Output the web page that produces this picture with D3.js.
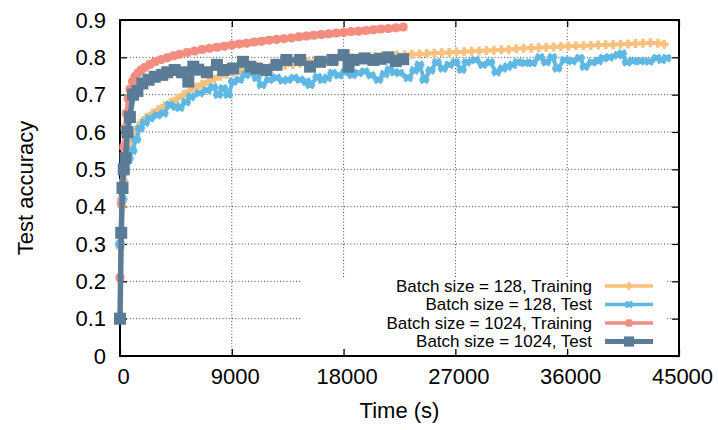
<!DOCTYPE html>
<html>
<head>
<meta charset="utf-8">
<script src="https://cdn.jsdelivr.net/npm/d3@7/dist/d3.min.js"></script>
<style>
  html, body { margin: 0; padding: 0; background: #fff; }
  svg { display: block; font-family: "Liberation Sans", Arial, Helvetica, sans-serif; }
</style>
</head>
<body>
<svg id="chart" width="718" height="430"></svg>
<script>
// Training time (s) and accuracy for each run
const train128Time = [0,150,300,500,750,1000,1300,1700,2100,2600,3100,3600,4100,4600,5100,5600,6100,6600,7100,7600,8100,8600,9100,9700,10300,10900,11500,12100,12700,13300,13900,14500,15100,15700,16300,16900,17500,18100,18700,19300,19900,20500,21100,21700,22300,22900,23500,24100,24700,25300,25900,26500,27100,27700,28300,28900,29500,30100,30700,31300,31900,32500,33100,33700,34300,34900,35500,36100,36700,37300,37900,38500,39100,39700,40300,40900,41500,42100,42700,43300,43800];
const train128Acc = [0.29,0.40,0.47,0.52,0.56,0.585,0.605,0.625,0.638,0.650,0.660,0.670,0.680,0.690,0.700,0.710,0.720,0.728,0.735,0.742,0.749,0.755,0.760,0.764,0.767,0.770,0.772,0.775,0.777,0.779,0.781,0.784,0.787,0.790,0.792,0.794,0.796,0.798,0.799,0.800,0.801,0.802,0.803,0.804,0.806,0.807,0.808,0.809,0.810,0.811,0.812,0.813,0.814,0.815,0.816,0.817,0.818,0.819,0.820,0.821,0.823,0.824,0.825,0.826,0.827,0.828,0.829,0.830,0.831,0.831,0.832,0.833,0.834,0.834,0.835,0.836,0.837,0.838,0.839,0.838,0.835];

const test128Time = [0,200,400,700,1000,1300,1600,2000,2400,3000,3500,4000,4500,4800,5300,5700,6400,7000,7500,7900,8300,8700,9100,9600,10100,10600,11000,11400,12000,12600,13100,13500,14000,14500,15000,15300,15900,16300,16700,17100,17600,18100,18700,19200,19700,20200,20800,21300,21700,22100,22500,23200,23700,24100,24500,25000,25500,26000,26500,27000,27500,27900,28600,29200,29800,30300,30800,31200,31600,32000,32600,33200,33800,34300,34800,35200,35800,36400,37000,37400,38000,38500,38900,39400,40100,40400,40800,41300,41900,42600,43200,43600,44000];
const test128Acc = [0.30,0.42,0.50,0.53,0.55,0.58,0.61,0.625,0.637,0.645,0.65,0.672,0.668,0.665,0.68,0.694,0.704,0.712,0.72,0.70,0.717,0.70,0.735,0.74,0.753,0.758,0.745,0.726,0.74,0.745,0.738,0.74,0.745,0.74,0.735,0.726,0.747,0.74,0.745,0.758,0.752,0.76,0.753,0.758,0.762,0.752,0.74,0.755,0.767,0.76,0.758,0.745,0.765,0.78,0.74,0.765,0.787,0.77,0.78,0.787,0.767,0.787,0.793,0.78,0.787,0.76,0.77,0.775,0.78,0.787,0.785,0.785,0.80,0.787,0.80,0.77,0.793,0.79,0.798,0.775,0.787,0.79,0.798,0.80,0.806,0.81,0.787,0.79,0.79,0.789,0.798,0.793,0.798];

const train1024Time = [0,100,200,300,400,500,650,800,1000,1200,1450,1700,2000,2400,2800,3300,3800,4300,4800,5400,6000,6600,7200,7800,8400,9000,9600,10200,10800,11400,12000,12600,13200,13800,14400,15000,15600,16200,16800,17400,18000,18600,19200,19800,20400,21000,21600,22200,22800];
const train1024Acc = [0.21,0.41,0.50,0.56,0.61,0.65,0.69,0.715,0.735,0.748,0.758,0.766,0.773,0.781,0.788,0.794,0.799,0.804,0.808,0.813,0.817,0.821,0.824,0.827,0.830,0.833,0.836,0.838,0.841,0.843,0.846,0.848,0.850,0.852,0.855,0.857,0.859,0.861,0.863,0.865,0.867,0.869,0.870,0.872,0.874,0.876,0.877,0.879,0.881];

const test1024Time = [0,100,200,300,450,600,800,1050,1400,1800,2300,2800,3400,3800,4400,5000,5500,5900,6300,7000,7800,8300,9100,9900,10500,11000,11800,12600,13400,14500,15300,16100,17100,18000,18400,18800,19700,20400,21000,21600,22200,22800];
const test1024Acc = [0.10,0.33,0.45,0.50,0.53,0.60,0.64,0.70,0.71,0.73,0.74,0.748,0.753,0.76,0.766,0.76,0.735,0.775,0.767,0.76,0.78,0.766,0.77,0.788,0.775,0.77,0.766,0.78,0.793,0.793,0.775,0.788,0.793,0.806,0.775,0.793,0.797,0.793,0.796,0.80,0.79,0.795];

const seriesNames = ["Batch size = 128, Training", "Batch size = 128, Test", "Batch size = 1024, Training", "Batch size = 1024, Test"];
const seriesColors = ["#f9c17e", "#5fb8e4", "#f28d80", "#5b7c97"];

const xTicks = [0, 9000, 18000, 27000, 36000, 45000];
const yTicks = [0, 0.1, 0.2, 0.3, 0.4, 0.5, 0.6, 0.7, 0.8, 0.9];

const xTitle = "Time (s)";
const yTitle = "Test accuracy";

const svg = d3.select("#chart");
const plotLeft = 120, plotRight = 679, plotTop = 20, plotBottom = 356;

const x = d3.scaleLinear().domain([0, 45000]).range([plotLeft, plotRight]);
const y = d3.scaleLinear().domain([0, 0.9]).range([plotBottom, plotTop]);

const series = [
  { name: seriesNames[0], color: seriesColors[0], t: train128Time, a: train128Acc, marker: "plus", lw: 4 },
  { name: seriesNames[1], color: seriesColors[1], t: test128Time, a: test128Acc, marker: "star", lw: 4 },
  { name: seriesNames[2], color: seriesColors[2], t: train1024Time, a: train1024Acc, marker: "cross", lw: 4 },
  { name: seriesNames[3], color: seriesColors[3], t: test1024Time, a: test1024Acc, marker: "square", lw: 5.5 }
];
series.forEach(s => { s.points = s.t.map((tv, i) => ({ t: tv, a: s.a[i] })); });

// Dotted grid
const grid = svg.append("g").attr("stroke", "#444").attr("stroke-width", 1).attr("stroke-dasharray", "1,2.2");
xTicks.slice(1, -1).forEach(v => {
  grid.append("line").attr("x1", x(v)).attr("x2", x(v)).attr("y1", plotTop).attr("y2", plotBottom);
});
yTicks.slice(1, -1).forEach(v => {
  grid.append("line").attr("x1", plotLeft).attr("x2", plotRight).attr("y1", y(v)).attr("y2", y(v));
});

// Opaque key box
const key = { x: 301, y: 277, w: 365, h: 71 };
svg.append("rect").attr("x", key.x).attr("y", key.y).attr("width", key.w).attr("height", key.h).attr("fill", "#fff");

// Axes with inward ticks, mirrored on top and right
const tickLen = 7;
const axisBottom = d3.axisBottom(x).tickValues(xTicks).tickSizeInner(-tickLen).tickSizeOuter(0).tickPadding(12).tickFormat(d3.format("d"));
const axisLeft = d3.axisLeft(y).tickValues(yTicks).tickSizeInner(-tickLen).tickSizeOuter(0).tickPadding(14).tickFormat(d => d === 0 ? "0" : d3.format(".1f")(d));
const axisTop = d3.axisTop(x).tickValues(xTicks).tickSizeInner(-tickLen).tickSizeOuter(0).tickFormat("");
const axisRight = d3.axisRight(y).tickValues(yTicks).tickSizeInner(-tickLen).tickSizeOuter(0).tickFormat("");

function styleAxis(g) {
  g.select(".domain").remove();
  g.selectAll(".tick line").attr("stroke", "#000").attr("stroke-width", 1.2);
  g.selectAll(".tick text").attr("fill", "#000").style("font-size", "22px").style("font-family", "'Liberation Sans', Arial, sans-serif");
}
svg.append("g").attr("transform", `translate(0,${plotBottom})`).call(axisBottom).call(styleAxis)
  .selectAll(".tick text").attr("dx", 3);
svg.append("g").attr("transform", `translate(${plotLeft},0)`).call(axisLeft).call(styleAxis);
svg.append("g").attr("transform", `translate(0,${plotTop})`).call(axisTop).call(styleAxis);
svg.append("g").attr("transform", `translate(${plotRight},0)`).call(axisRight).call(styleAxis);

svg.append("rect").attr("x", plotLeft).attr("y", plotTop).attr("width", plotRight - plotLeft).attr("height", plotBottom - plotTop)
  .attr("fill", "none").attr("stroke", "#000").attr("stroke-width", 2);

// Marker drawing
function drawMarker(g, type, color, cx, cy, scale) {
  const k = scale || 1;
  if (type === "square") {
    const s = 12 * k;
    g.append("rect").attr("x", cx - s / 2).attr("y", cy - s / 2).attr("width", s).attr("height", s).attr("fill", color);
  } else if (type === "plus") {
    const r = 4.5 * k;
    g.append("path").attr("d", `M${cx - r},${cy}H${cx + r}M${cx},${cy - r}V${cy + r}`)
      .attr("stroke", color).attr("stroke-width", 3.5).attr("fill", "none");
  } else if (type === "cross") {
    const r = 4.5 * k;
    g.append("path").attr("d", `M${cx - r},${cy}H${cx + r}M${cx},${cy - r}V${cy + r}M${cx - r * 0.75},${cy - r * 0.75}L${cx + r * 0.75},${cy + r * 0.75}M${cx - r * 0.75},${cy + r * 0.75}L${cx + r * 0.75},${cy - r * 0.75}`)
      .attr("stroke", color).attr("stroke-width", 3).attr("fill", "none");
  } else if (type === "star") {
    const r = 5 * k;
    g.append("path").attr("d", `M${cx - r},${cy}H${cx + r}M${cx},${cy - r * 0.6}V${cy + r * 0.6}M${cx - r * 0.7},${cy - r * 0.7}L${cx + r * 0.7},${cy + r * 0.7}M${cx - r * 0.7},${cy + r * 0.7}L${cx + r * 0.7},${cy - r * 0.7}`)
      .attr("stroke", color).attr("stroke-width", 3).attr("fill", "none");
  }
}

const line = d3.line().x(d => x(d.t)).y(d => y(d.a));
const plot = svg.append("g");
series.forEach(s => {
  const g = plot.append("g");
  g.append("path").datum(s.points).attr("d", line).attr("fill", "none")
    .attr("stroke", s.color).attr("stroke-width", s.lw).attr("stroke-linejoin", "round");
  s.points.forEach(p => drawMarker(g, s.marker, s.color, x(p.t), y(p.a)));
});

// Key entries
const keyRows = [286, 304.5, 323, 341.5];
series.forEach((s, i) => {
  const ry = keyRows[i];
  svg.append("text").attr("x", 592).attr("y", ry).attr("text-anchor", "end").attr("dominant-baseline", "central")
    .style("font-size", "17px").attr("fill", "#000").text(s.name);
  svg.append("line").attr("x1", 605).attr("x2", 653).attr("y1", ry).attr("y2", ry)
    .attr("stroke", s.color).attr("stroke-width", s.lw - 0.5);
  drawMarker(svg, s.marker, s.color, 629, ry, 0.85);
});

// Axis titles
svg.append("text").attr("x", (plotLeft + plotRight) / 2).attr("y", 418).attr("text-anchor", "middle")
  .style("font-size", "22px").attr("fill", "#000").text(xTitle);
svg.append("text").attr("transform", `translate(33,${(plotTop + plotBottom) / 2}) rotate(-90)`).attr("text-anchor", "middle")
  .style("font-size", "22px").attr("fill", "#000").text(yTitle);
</script>
</body>
</html>
